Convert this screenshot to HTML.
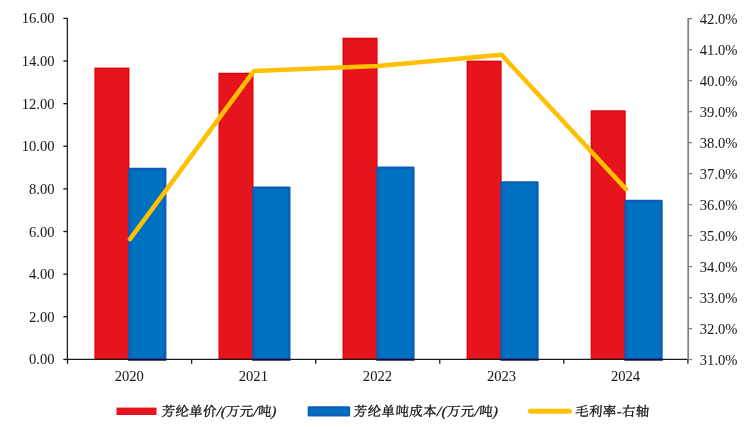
<!DOCTYPE html>
<html lang="zh-CN">
<head>
<meta charset="utf-8">
<title>芳纶单价、单吨成本与毛利率</title>
<style>
html,body{margin:0;padding:0;background:#fff;}
body{width:750px;height:427px;overflow:hidden;}
svg{display:block;}
text{font-family:"Liberation Serif","Noto Serif CJK SC",serif;fill:#1c1c1c;}
.ax{font-size:15.1px;stroke:#1c1c1c;stroke-width:0.04px;}
.lg{font-size:13.3px;fill:#0d0d0d;stroke:#1c1c1c;stroke-width:0.36px;}
.it{font-style:italic;font-size:14.2px;}
</style>
</head>
<body>
<svg width="750" height="427" viewBox="0 0 750 427">
<rect x="0" y="0" width="750" height="427" fill="#ffffff"/>

<rect x="95.09" y="68.30" width="33.65" height="290.50" fill="#e6141c" stroke="#e50005" stroke-width="1.4"/>
<rect x="219.16" y="73.45" width="33.65" height="285.35" fill="#e6141c" stroke="#e50005" stroke-width="1.4"/>
<rect x="343.23" y="38.40" width="33.65" height="320.40" fill="#e6141c" stroke="#e50005" stroke-width="1.4"/>
<rect x="467.30" y="61.30" width="33.65" height="297.50" fill="#e6141c" stroke="#e50005" stroke-width="1.4"/>
<rect x="591.37" y="111.00" width="33.65" height="247.80" fill="#e6141c" stroke="#e50005" stroke-width="1.4"/>
<line x1="67.05" y1="359.40" x2="688.40" y2="359.40" stroke="#1a1a1a" stroke-width="1.15"/>
<line x1="67.55" y1="359.40" x2="67.55" y2="363.80" stroke="#1a1a1a" stroke-width="1.3"/>
<line x1="191.62" y1="359.40" x2="191.62" y2="363.80" stroke="#1a1a1a" stroke-width="1.3"/>
<line x1="315.69" y1="359.40" x2="315.69" y2="363.80" stroke="#1a1a1a" stroke-width="1.3"/>
<line x1="439.76" y1="359.40" x2="439.76" y2="363.80" stroke="#1a1a1a" stroke-width="1.3"/>
<line x1="563.83" y1="359.40" x2="563.83" y2="363.80" stroke="#1a1a1a" stroke-width="1.3"/>
<line x1="687.90" y1="359.40" x2="687.90" y2="363.80" stroke="#1a1a1a" stroke-width="1.3"/>
<rect x="129.39" y="169.00" width="35.80" height="189.80" fill="#0070c0" stroke="#0c5eb7" stroke-width="2.5" stroke-linejoin="round"/>
<rect x="128.09" y="358.80" width="38.40" height="1.9" fill="#050a3c"/>
<rect x="253.46" y="187.80" width="35.80" height="171.00" fill="#0070c0" stroke="#0c5eb7" stroke-width="2.5" stroke-linejoin="round"/>
<rect x="252.16" y="358.80" width="38.40" height="1.9" fill="#050a3c"/>
<rect x="377.53" y="167.80" width="35.80" height="191.00" fill="#0070c0" stroke="#0c5eb7" stroke-width="2.5" stroke-linejoin="round"/>
<rect x="376.23" y="358.80" width="38.40" height="1.9" fill="#050a3c"/>
<rect x="501.60" y="182.40" width="35.80" height="176.40" fill="#0070c0" stroke="#0c5eb7" stroke-width="2.5" stroke-linejoin="round"/>
<rect x="500.30" y="358.80" width="38.40" height="1.9" fill="#050a3c"/>
<rect x="625.66" y="201.10" width="35.80" height="157.70" fill="#0070c0" stroke="#0c5eb7" stroke-width="2.5" stroke-linejoin="round"/>
<rect x="624.37" y="358.80" width="38.40" height="1.9" fill="#050a3c"/>
<line x1="67.35" y1="17.90" x2="67.35" y2="359.90" stroke="#1a1a1a" stroke-width="1.25"/>
<line x1="63.35" y1="359.40" x2="67.55" y2="359.40" stroke="#1a1a1a" stroke-width="1.3"/>
<text class="ax" transform="translate(54.6,364.40) scale(0.967,1)" text-anchor="end">0.00</text>
<line x1="63.35" y1="316.77" x2="67.55" y2="316.77" stroke="#1a1a1a" stroke-width="1.3"/>
<text class="ax" transform="translate(54.6,321.77) scale(0.967,1)" text-anchor="end">2.00</text>
<line x1="63.35" y1="274.15" x2="67.55" y2="274.15" stroke="#1a1a1a" stroke-width="1.3"/>
<text class="ax" transform="translate(54.6,279.15) scale(0.967,1)" text-anchor="end">4.00</text>
<line x1="63.35" y1="231.52" x2="67.55" y2="231.52" stroke="#1a1a1a" stroke-width="1.3"/>
<text class="ax" transform="translate(54.6,236.52) scale(0.967,1)" text-anchor="end">6.00</text>
<line x1="63.35" y1="188.90" x2="67.55" y2="188.90" stroke="#1a1a1a" stroke-width="1.3"/>
<text class="ax" transform="translate(54.6,193.90) scale(0.967,1)" text-anchor="end">8.00</text>
<line x1="63.35" y1="146.27" x2="67.55" y2="146.27" stroke="#1a1a1a" stroke-width="1.3"/>
<text class="ax" transform="translate(54.6,151.27) scale(0.967,1)" text-anchor="end">10.00</text>
<line x1="63.35" y1="103.65" x2="67.55" y2="103.65" stroke="#1a1a1a" stroke-width="1.3"/>
<text class="ax" transform="translate(54.6,108.65) scale(0.967,1)" text-anchor="end">12.00</text>
<line x1="63.35" y1="61.02" x2="67.55" y2="61.02" stroke="#1a1a1a" stroke-width="1.3"/>
<text class="ax" transform="translate(54.6,66.02) scale(0.967,1)" text-anchor="end">14.00</text>
<line x1="63.35" y1="18.40" x2="67.55" y2="18.40" stroke="#1a1a1a" stroke-width="1.3"/>
<text class="ax" transform="translate(54.6,23.40) scale(0.967,1)" text-anchor="end">16.00</text>
<line x1="688.20" y1="17.90" x2="688.20" y2="359.90" stroke="#808080" stroke-width="1.7"/>
<line x1="688.20" y1="359.60" x2="692.20" y2="359.60" stroke="#808080" stroke-width="1.3"/>
<text class="ax" transform="translate(699.8,364.60) scale(0.967,1)">31.0%</text>
<line x1="688.20" y1="328.60" x2="692.20" y2="328.60" stroke="#808080" stroke-width="1.3"/>
<text class="ax" transform="translate(699.8,333.60) scale(0.967,1)">32.0%</text>
<line x1="688.20" y1="297.60" x2="692.20" y2="297.60" stroke="#808080" stroke-width="1.3"/>
<text class="ax" transform="translate(699.8,302.60) scale(0.967,1)">33.0%</text>
<line x1="688.20" y1="266.60" x2="692.20" y2="266.60" stroke="#808080" stroke-width="1.3"/>
<text class="ax" transform="translate(699.8,271.60) scale(0.967,1)">34.0%</text>
<line x1="688.20" y1="235.60" x2="692.20" y2="235.60" stroke="#808080" stroke-width="1.3"/>
<text class="ax" transform="translate(699.8,240.60) scale(0.967,1)">35.0%</text>
<line x1="688.20" y1="204.60" x2="692.20" y2="204.60" stroke="#808080" stroke-width="1.3"/>
<text class="ax" transform="translate(699.8,209.60) scale(0.967,1)">36.0%</text>
<line x1="688.20" y1="173.60" x2="692.20" y2="173.60" stroke="#808080" stroke-width="1.3"/>
<text class="ax" transform="translate(699.8,178.60) scale(0.967,1)">37.0%</text>
<line x1="688.20" y1="142.60" x2="692.20" y2="142.60" stroke="#808080" stroke-width="1.3"/>
<text class="ax" transform="translate(699.8,147.60) scale(0.967,1)">38.0%</text>
<line x1="688.20" y1="111.60" x2="692.20" y2="111.60" stroke="#808080" stroke-width="1.3"/>
<text class="ax" transform="translate(699.8,116.60) scale(0.967,1)">39.0%</text>
<line x1="688.20" y1="80.60" x2="692.20" y2="80.60" stroke="#808080" stroke-width="1.3"/>
<text class="ax" transform="translate(699.8,85.60) scale(0.967,1)">40.0%</text>
<line x1="688.20" y1="49.60" x2="692.20" y2="49.60" stroke="#808080" stroke-width="1.3"/>
<text class="ax" transform="translate(699.8,54.60) scale(0.967,1)">41.0%</text>
<line x1="688.20" y1="18.60" x2="692.20" y2="18.60" stroke="#808080" stroke-width="1.3"/>
<text class="ax" transform="translate(699.8,23.60) scale(0.967,1)">42.0%</text>
<text class="ax" transform="translate(129.28,381.2) scale(0.967,1)" text-anchor="middle">2020</text>
<text class="ax" transform="translate(253.36,381.2) scale(0.967,1)" text-anchor="middle">2021</text>
<text class="ax" transform="translate(377.43,381.2) scale(0.967,1)" text-anchor="middle">2022</text>
<text class="ax" transform="translate(501.50,381.2) scale(0.967,1)" text-anchor="middle">2023</text>
<text class="ax" transform="translate(625.57,381.2) scale(0.967,1)" text-anchor="middle">2024</text>
<polyline fill="none" stroke="#ffc000" stroke-width="4.5" stroke-linecap="round" stroke-linejoin="round" points="130.0,239.1 253.8,71.1 377.7,65.9 501.6,54.8 625.8,188.9"/>
<rect x="116.5" y="407.6" width="40" height="7.4" fill="#e6141c"/>
<text class="lg" transform="translate(161.6,416.2) skewX(-4)" textLength="114.5" lengthAdjust="spacing">芳纶单价<tspan class="it">/(</tspan>万元<tspan class="it">/</tspan>吨<tspan class="it">)</tspan></text>
<rect x="308.85" y="407.5" width="40.1" height="7.8" fill="#0070c0" stroke="#0c5eb7" stroke-width="2.4" stroke-linejoin="round"/>
<text class="lg" transform="translate(353.6,416.2) skewX(-4)" textLength="144" lengthAdjust="spacing">芳纶单吨成本<tspan class="it">/(</tspan>万元<tspan class="it">/</tspan>吨<tspan class="it">)</tspan></text>
<line x1="530.4" y1="411.25" x2="569.6" y2="411.25" stroke="#ffc000" stroke-width="4.9" stroke-linecap="round"/>
<text class="lg" transform="translate(574.9,416.2) skewX(-4)" textLength="74" lengthAdjust="spacing">毛利率<tspan class="it">-</tspan>右轴</text>
</svg>
</body>
</html>
